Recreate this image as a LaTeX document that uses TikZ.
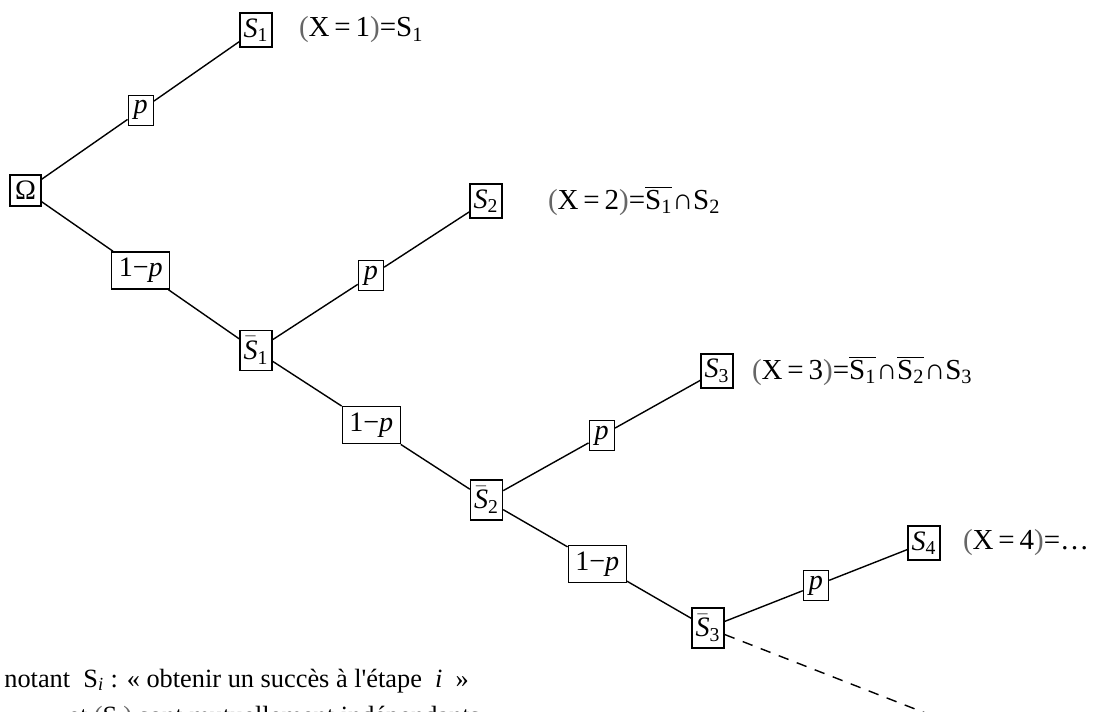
\documentclass[tikz,border=0pt]{standalone}
\usepackage{fontspec}
\setmainfont{Liberation Serif}
\usetikzlibrary{positioning, calc}
\tikzstyle{box}    = [rectangle, draw=black, line width=0.8pt, inner sep=1pt,
                      minimum width=0.64cm, minimum height=0.68cm,
                      font=\fontsize{16}{19}\selectfont]
\tikzstyle{barred} = [box, minimum height=0.8cm]
\tikzstyle{prob}   = [box, minimum width=0.5cm, minimum height=0.6cm]
\tikzstyle{notprob} = [box, minimum width=1.16cm, minimum height=0.74cm]
\tikzstyle{branch} = [line width=0.8pt]
\tikzstyle{event}  = [anchor=west, inner sep=0pt, font=\fontsize{16.5}{19}\selectfont]
\tikzstyle{remark} = [anchor=base west, inner sep=0pt, font=\fontsize{15}{18}\selectfont]
\newcommand{\ev}[1]{S\textsubscript{#1}}
\newcommand{\nev}[1]{$\overline{\hbox{S\textsubscript{#1}}}$}
\newcommand{\lp}{{\color{black!60}(}}
\newcommand{\rp}{{\color{black!60})}}

\begin{document}
\begin{tikzpicture}[x=0.02cm, y=-0.02cm]
    \useasboundingbox (0,0) rectangle (1117,711);
    \clip (0,0) rectangle (1117,711);

    % Outcomes
    \node (omega) [box, minimum width=0.62cm, minimum height=0.62cm] at (25.5,190.5) {Ω};
    \node (s1)  [box]    at (256,30)    {\textit{S}\textsubscript{1}};
    \node (ns1) [barred] at (256,350.5) {$\bar{\hbox{\textit{S}}}$\textsubscript{1}};
    \node (s2)  [box]    at (486,201)   {\textit{S}\textsubscript{2}};
    \node (ns2) [barred] at (486.5,500) {$\bar{\hbox{\textit{S}}}$\textsubscript{2}};
    \node (s3)  [box]    at (717,371)   {\textit{S}\textsubscript{3}};
    \node (ns3) [barred] at (708,628)   {$\bar{\hbox{\textit{S}}}$\textsubscript{3}};
    \node (s4)  [box]    at (924,543)   {\textit{S}\textsubscript{4}};
    \coordinate (more) at (1117,788);

    % Probabilities on the branches
    \node (p1) [prob]    at ($(omega)!0.5!(s1)$)  {\textit{p}};
    \node (q1) [notprob] at ($(omega)!0.5!(ns1)$) {1−\textit{p}};
    \node (p2) [prob]    at ($(ns1)!0.5!(s2)$)    {\textit{p}};
    \node (q2) [notprob] at ($(ns1)!0.5!(ns2)$)   {1−\textit{p}};
    \node (p3) [prob]    at ($(ns2)!0.5!(s3)$)    {\textit{p}};
    \node (q3) [notprob] at ($(ns2)!0.5!(ns3)$)   {1−\textit{p}};
    \node (p4) [prob]    at ($(ns3)!0.5!(s4)$)    {\textit{p}};

    % Events
    \node (x1) [event, right=0.52cm of s1] {\lp X\,=\,1\rp=\ev{1}};
    \node (x2) [event, right=0.9cm of s2]  {\lp X\,=\,2\rp=\nev{1}∩\ev{2}};
    \node (x3) [event, right=0.36cm of s3] {\lp X\,=\,3\rp=\nev{1}∩\nev{2}∩\ev{3}};
    \node (x4) [event, right=0.44cm of s4] {\lp X\,=\,4\rp=…};

    % Note
    \node (note1) [remark] at (4,687) {notant~ S\textsubscript{\textit{i}} : « obtenir un succès à l\textquotesingle étape ~\textit{i}~ »};
    \node (note2) [remark] at (68,724) {et \lp S\textsubscript{\textit{i}}\rp\ sont mutuellement indépendants};

    % Branches
    \draw[branch] (omega) -- (p1) -- (s1);
    \draw[branch] (omega) -- (q1) -- (ns1);
    \draw[branch] (ns1) -- (p2) -- (s2);
    \draw[branch] (ns1) -- (q2) -- (ns2);
    \draw[branch] (ns2) -- (p3) -- (s3);
    \draw[branch] (ns2) -- (q3) -- (ns3);
    \draw[branch] (ns3) -- (p4) -- (s4);
    \draw[branch, dash pattern=on 6pt off 5pt] (ns3) -- (more);
\end{tikzpicture}
\end{document}
